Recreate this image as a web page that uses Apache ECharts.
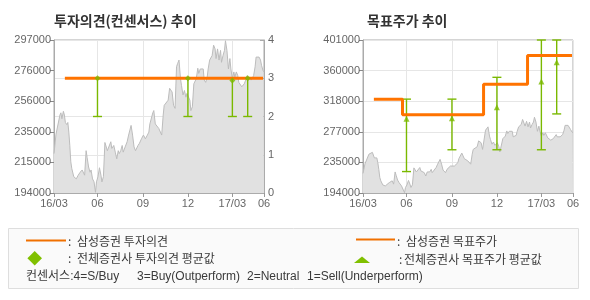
<!DOCTYPE html>
<html><head><meta charset="utf-8">
<script src="https://cdn.jsdelivr.net/npm/echarts@6.0.0/dist/echarts.min.js"></script>
<style>html,body{margin:0;padding:0;background:#fff}#c{width:590px;height:300px}</style>
</head><body><div id="c"></div>
<script>
// ---- data ----
const dates = ['2016-03-05','2016-03-07','2016-03-09','2016-03-13','2016-03-17','2016-03-19','2016-03-21','2016-03-24','2016-03-26','2016-03-28','2016-03-31','2016-04-02','2016-04-04','2016-04-06','2016-04-08','2016-04-10','2016-04-12','2016-04-14','2016-04-19','2016-04-23','2016-04-27','2016-05-01','2016-05-03','2016-05-06','2016-05-09','2016-05-11','2016-05-14','2016-05-17','2016-05-19','2016-05-22','2016-05-25','2016-05-28','2016-05-30','2016-06-02','2016-06-05','2016-06-08','2016-06-10','2016-06-13','2016-06-16','2016-06-18','2016-06-21','2016-06-24','2016-06-28','2016-06-30','2016-07-04','2016-07-07','2016-07-10','2016-07-13','2016-07-15','2016-07-18','2016-07-21','2016-07-23','2016-07-27','2016-07-31','2016-08-03','2016-08-06','2016-08-08','2016-08-11','2016-08-14','2016-08-17','2016-08-19','2016-08-22','2016-08-25','2016-08-29','2016-09-02','2016-09-06','2016-09-10','2016-09-13','2016-09-15','2016-09-18','2016-09-21','2016-09-23','2016-09-26','2016-09-29','2016-10-03','2016-10-05','2016-10-09','2016-10-12','2016-10-14','2016-10-18','2016-10-22','2016-10-25','2016-10-28','2016-10-30','2016-11-02','2016-11-05','2016-11-08','2016-11-10','2016-11-13','2016-11-16','2016-11-18','2016-11-21','2016-11-24','2016-11-27','2016-11-29','2016-12-02','2016-12-05','2016-12-07','2016-12-10','2016-12-13','2016-12-15','2016-12-18','2016-12-21','2016-12-23','2016-12-26','2016-12-29','2017-01-01','2017-01-03','2017-01-06','2017-01-09','2017-01-11','2017-01-14','2017-01-17','2017-01-19','2017-01-22','2017-01-25','2017-01-27','2017-01-30','2017-02-02','2017-02-05','2017-02-07','2017-02-10','2017-02-13','2017-02-15','2017-02-18','2017-02-21','2017-02-24','2017-02-26','2017-03-01','2017-03-04','2017-03-06','2017-03-09','2017-03-12','2017-03-14','2017-03-17','2017-03-20','2017-03-22','2017-03-25','2017-03-28','2017-03-31','2017-04-02','2017-04-05','2017-04-08','2017-04-10','2017-04-13','2017-04-16','2017-04-18','2017-04-21','2017-04-24','2017-04-27','2017-04-29','2017-05-02','2017-05-04'];
const prices = [220500,220500,233500,233500,246500,248000,244000,249000,246500,241500,240000,241500,235000,226000,215000,210500,209500,205000,203500,206000,208000,209500,210500,206000,222500,218000,211500,208000,209500,203500,201500,194500,201500,205000,211000,206000,201500,205000,228000,228500,222500,221500,228500,224000,226000,221500,217000,222500,220500,222500,226000,221500,225000,228500,233000,234000,239500,233000,225000,222500,221500,226000,227500,230500,233000,230500,233000,235000,240500,241500,248000,249500,240500,239500,237500,238500,233000,246500,253000,254000,256500,264500,265500,262000,253000,251000,279000,281000,283500,271000,266500,260000,263000,258500,261000,262000,256500,249500,252000,267500,268500,271000,278000,274500,277500,276500,277500,270000,268500,272000,277500,283500,284500,286500,293500,291000,284500,291000,283500,290000,282000,286500,290000,296500,290000,277500,284500,277500,271000,275500,272000,275500,273000,268500,267500,265500,266500,267500,270000,273000,270000,272000,270000,271000,273000,279000,285500,286500,285500,283500,280000,276500,275500];

const xMin = '2016-03-05', xMax = '2017-05-04';
const tickDates  = ['2016-03-05','2016-06-01','2016-09-01','2016-12-01','2017-03-01','2017-05-04'];
const tickLabels = ['16/03','06','09','12','17/03','06'];

const leftPriceLabels  = ['194000','215000','235000','256000','276000','297000'];
const rightPriceLabels = ['194000','235000','277000','318000','360000','401000'];
const opinionLabels = ['0','1','2','3','4'];

// Samsung investment opinion
const opinionDates  = ['2016-03-27','2017-05-02'];
const opinionValues = [3, 3];
// all brokers' opinion range / average
const consDates = ['2016-06-01','2016-12-01','2017-03-01','2017-04-01'];
const consLow   = [2, 2, 2, 2];
const consHigh  = [3, 3, 3, 3];
const consAvg   = [3.0, 3.0, 2.94, 3.0];

// Samsung target price (step)
const targetDates  = ['2016-03-27','2016-05-24','2016-11-04','2017-02-01','2017-05-02'];
const targetValues = [321000, 300000, 341000, 380000, 380000];
// all brokers' target price range / average
const tpDates = ['2016-06-01','2016-09-01','2016-12-01','2017-03-01','2017-04-01'];
const tpLow   = [223000, 252500, 252500, 252500, 301000];
const tpHigh  = [321000, 321000, 350500, 401000, 401000];
const tpAvg   = [294500, 295000, 310000, 345000, 371000];

// ---- chart ----
const FONT = "'Liberation Sans', 'Noto Sans CJK KR', sans-serif";
const KFONT = "'Noto Sans CJK KR', 'Liberation Sans', sans-serif";
const ORANGE = '#ff7300';
const GREEN = '#7ab900';
const AXIS = '#ababab';
const GRIDC = '#e6e6e6';
const LABELC = '#666';
const TEXTC = '#3a3a3a';

const ts = s => { const p = s.split('-').map(Number); return Date.UTC(p[0], p[1]-1, p[2]); };
const tickTs = tickDates.map(ts);
const xLabel = v => { const i = tickTs.findIndex(t => Math.abs(t - v) < 43200000); return i >= 0 ? tickLabels[i] : ''; };

const priceData = dates.map((d, i) => [ts(d), prices[i]]);

function xAxisFor(gi) {
  return {
    type: 'value', gridIndex: gi, min: ts(xMin), max: ts(xMax),
    axisLine: { show: true, onZero: false, lineStyle: { color: AXIS, width: 1 } },
    axisTick: { show: true, length: 4, customValues: tickTs, lineStyle: { color: '#999' } },
    axisLabel: { customValues: tickTs, formatter: xLabel, color: LABELC, fontSize: 11, fontFamily: FONT, margin: 5, hideOverlap: false, showMinLabel: true, showMaxLabel: true },
    splitLine: { show: true, lineStyle: { color: GRIDC, width: 1 } }
  };
}

function barRenderer(params, api) {
  const x = api.value(0), lo = api.value(1), hi = api.value(2);
  const a = api.coord([x, lo]), b = api.coord([x, hi]);
  const w = 4.5;
  const st = { stroke: GREEN, lineWidth: 1.4, fill: null };
  return { type: 'group', children: [
    { type: 'line', shape: { x1: a[0], y1: a[1], x2: b[0], y2: b[1] }, style: st },
    { type: 'line', shape: { x1: a[0]-w, y1: a[1], x2: a[0]+w, y2: a[1] }, style: st },
    { type: 'line', shape: { x1: b[0]-w, y1: b[1], x2: b[0]+w, y2: b[1] }, style: st }
  ]};
}

function legendText(x, y, t, font) {
  return { type: 'text', x: x, y: y, style: { text: t, font: font || ('12px ' + KFONT), fill: TEXTC, verticalAlign: 'middle' } };
}

const option = {
  animation: false,
  backgroundColor: '#fff',
  grid: [
    { left: 54, top: 40, width: 210, height: 153, show: true, borderColor: AXIS, borderWidth: 1, backgroundColor: 'transparent' },
    { left: 363, top: 40, width: 210, height: 153, show: true, borderColor: AXIS, borderWidth: 1, backgroundColor: 'transparent' }
  ],
  xAxis: [ xAxisFor(0), xAxisFor(1) ],
  yAxis: [
    { type: 'value', gridIndex: 0, position: 'left', min: 194000, max: 297000, interval: 20600,
      axisLine: { show: true, lineStyle: { color: AXIS } },
      axisTick: { show: true, length: 4, lineStyle: { color: '#888' } },
      axisLabel: { formatter: (v, i) => leftPriceLabels[i], color: LABELC, fontSize: 11, fontFamily: FONT, margin: 3 },
      splitLine: { show: false } },
    { type: 'value', gridIndex: 0, position: 'right', min: 0, max: 4, interval: 1,
      axisLine: { show: true, lineStyle: { color: AXIS } },
      axisTick: { show: true, inside: true, length: 4, lineStyle: { color: '#aaa' } },
      axisLabel: { formatter: (v, i) => opinionLabels[i], color: LABELC, fontSize: 11, fontFamily: FONT, margin: 4 },
      splitLine: { show: true, lineStyle: { color: GRIDC, width: 1 } } },
    { type: 'value', gridIndex: 1, position: 'left', min: 194000, max: 401000, interval: 41400,
      axisLine: { show: true, lineStyle: { color: AXIS } },
      axisTick: { show: true, length: 4, lineStyle: { color: '#888' } },
      axisLabel: { formatter: (v, i) => rightPriceLabels[i], color: LABELC, fontSize: 11, fontFamily: FONT, margin: 3 },
      splitLine: { show: true, lineStyle: { color: GRIDC, width: 1 } } }
  ],
  series: [
    { name: 'price-left', type: 'line', xAxisIndex: 0, yAxisIndex: 0, data: priceData, symbol: 'none', z: 1,
      lineStyle: { color: '#bcbcbc', width: 1 }, areaStyle: { color: '#e1e1e1', opacity: 1, origin: 'start' } },
    { name: 'cons-range', type: 'custom', xAxisIndex: 0, yAxisIndex: 1, z: 3,
      data: consDates.map((d, i) => [ts(d), consLow[i], consHigh[i]]),
      encode: { x: 0, y: [1, 2] }, renderItem: barRenderer },
    { name: 'opinion', type: 'line', xAxisIndex: 0, yAxisIndex: 1, z: 4, symbol: 'none',
      data: opinionDates.map((d, i) => [ts(d), opinionValues[i]]), lineStyle: { color: ORANGE, width: 3 } },
    { name: 'cons-avg', type: 'scatter', xAxisIndex: 0, yAxisIndex: 1, z: 5, symbol: 'diamond', symbolSize: 6,
      data: consDates.map((d, i) => [ts(d), consAvg[i]]), itemStyle: { color: GREEN } },

    { name: 'price-right', type: 'line', xAxisIndex: 1, yAxisIndex: 2, data: priceData, symbol: 'none', z: 1,
      lineStyle: { color: '#bcbcbc', width: 1 }, areaStyle: { color: '#e1e1e1', opacity: 1, origin: 'start' } },
    { name: 'tp-range', type: 'custom', xAxisIndex: 1, yAxisIndex: 2, z: 3,
      data: tpDates.map((d, i) => [ts(d), tpLow[i], tpHigh[i]]),
      encode: { x: 0, y: [1, 2] }, renderItem: barRenderer },
    { name: 'target', type: 'line', xAxisIndex: 1, yAxisIndex: 2, z: 4, symbol: 'none', step: 'end',
      data: targetDates.map((d, i) => [ts(d), targetValues[i]]), lineStyle: { color: ORANGE, width: 3 } },
    { name: 'tp-avg', type: 'scatter', xAxisIndex: 1, yAxisIndex: 2, z: 5, symbol: 'triangle', symbolSize: 6,
      data: tpDates.map((d, i) => [ts(d), tpAvg[i]]), itemStyle: { color: GREEN } }
  ],
  graphic: [
    { type: 'text', x: 54, y: 21, style: { text: '투자의견(컨센서스) 추이', font: 'bold 14px ' + KFONT, fill: '#333', verticalAlign: 'middle' } },
    { type: 'text', x: 367, y: 21, style: { text: '목표주가 추이', font: 'bold 14px ' + KFONT, fill: '#333', verticalAlign: 'middle' } },
    { type: 'rect', shape: { x: 8.5, y: 228.5, width: 570, height: 60 }, style: { fill: '#fafafa', stroke: '#dedede', lineWidth: 1 } },
    { type: 'line', shape: { x1: 26, y1: 240.5, x2: 66, y2: 240.5 }, style: { stroke: '#f07000', lineWidth: 2 } },
    legendText(68, 241, ':'),
    legendText(77, 241, '삼성증권 투자의견'),
    { type: 'polygon', shape: { points: [[34.7, 251], [42, 258.3], [34.7, 265.6], [27.4, 258.3]] }, style: { fill: '#80c000' } },
    legendText(68, 258.5, ':'),
    legendText(77, 258.5, '전체증권사 투자의견 평균값'),
    legendText(26, 277, '컨센서스:4=S/Buy', '12px ' + FONT),
    legendText(137, 277, '3=Buy(Outperform)', '12px ' + FONT),
    legendText(247, 277, '2=Neutral', '12px ' + FONT),
    legendText(307, 277, '1=Sell(Underperform)', '12px ' + FONT),
    { type: 'line', shape: { x1: 356, y1: 239.5, x2: 395, y2: 239.5 }, style: { stroke: '#f07000', lineWidth: 2 } },
    legendText(397, 241.5, ':'),
    legendText(406, 241.5, '삼성증권 목표주가'),
    { type: 'polygon', shape: { points: [[362, 256.5], [370, 263], [354, 263]] }, style: { fill: '#80c000' } },
    legendText(399, 259, ':'),
    legendText(404, 259, '전체증권사 목표주가 평균값')
  ]
};

const chart = echarts.init(document.getElementById('c'), null, { renderer: 'canvas', width: 590, height: 300 });
chart.setOption(option);
</script>
</body></html>
